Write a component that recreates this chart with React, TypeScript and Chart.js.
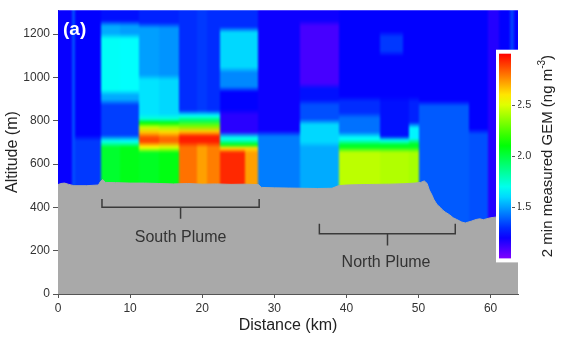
import React, { useEffect, useRef } from 'react';
import { Chart, registerables } from 'chart.js';

Chart.register(...registerables);

// ---- axes ----
const xTicks = [0, 10, 20, 30, 40, 50, 60];
const yTicks = [0, 200, 400, 600, 800, 1000, 1200];
const gemTicks = [1.5, 2.0, 2.5];
const gemMin = 1.0;
const gemMax = 3.0;
const distanceMax = 63.8;
const altitudeMax = 1310;
const curtainBase = 300;

// ---- curtain: column edges (km) and, per column, [top altitude (m), GEM (ng m-3)] bands from the bottom up ----
const columnEdges = [0, 2.0, 2.4, 6.0, 8.6, 11.3, 14.0, 16.8, 19.3, 20.7, 22.5, 26.0, 27.8, 33.5, 39.0, 44.6, 47.8, 48.7, 50.0, 57.0, 59.6, 61.2, 62.7, 63.2, 63.8];
const columnBands: number[][][] = [
  [[1310, 1.21]],
  [[1310, 1.36]],
  [[720, 1.32], [1310, 1.22]],
  [[690, 2.03], [720, 1.7], [885, 1.33], [930, 1.52], [1190, 1.68], [1250, 1.52], [1310, 1.25]],
  [[690, 2.07], [720, 1.68], [885, 1.33], [930, 1.52], [1190, 1.67], [1250, 1.5], [1310, 1.25]],
  [[665, 2.05], [690, 2.55], [735, 2.88], [760, 2.65], [780, 2.45], [800, 2.1], [820, 1.72], [1000, 1.62], [1240, 1.5], [1310, 1.28]],
  [[665, 2.08], [690, 2.5], [735, 2.82], [760, 2.62], [780, 2.4], [800, 2.08], [820, 1.72], [1000, 1.6], [1240, 1.48], [1310, 1.28]],
  [[690, 2.8], [740, 2.95], [762, 2.65], [790, 2.3], [810, 1.95], [835, 1.68], [1310, 1.3]],
  [[690, 2.72], [740, 2.95], [762, 2.65], [790, 2.3], [810, 1.95], [835, 1.68], [1310, 1.32]],
  [[690, 2.78], [740, 2.95], [762, 2.65], [790, 2.3], [810, 1.95], [835, 1.68], [1310, 1.3]],
  [[665, 2.93], [680, 2.62], [700, 2.05], [735, 1.7], [840, 1.15], [945, 1.22], [1035, 1.46], [1220, 1.6], [1310, 1.3]],
  [[665, 2.72], [680, 2.62], [700, 2.05], [735, 1.7], [840, 1.15], [945, 1.22], [1035, 1.46], [1220, 1.6], [1310, 1.3]],
  [[740, 1.44], [1310, 1.2]],
  [[690, 1.52], [795, 1.6], [885, 1.36], [960, 1.25], [1250, 1.1], [1310, 1.2]],
  [[665, 2.44], [700, 2.05], [735, 1.68], [825, 1.42], [900, 1.3], [1310, 1.22]],
  [[665, 2.42], [700, 2.05], [716, 1.7], [900, 1.25], [1110, 1.22], [1200, 1.32], [1310, 1.22]],
  [[665, 2.42], [700, 2.05], [716, 1.7], [900, 1.25], [1310, 1.22]],
  [[665, 2.4], [705, 2.05], [780, 1.65], [900, 1.28], [1310, 1.22]],
  [[880, 1.38], [1310, 1.22]],
  [[750, 1.36], [1310, 1.22]],
  [[1310, 1.16]],
  [[1310, 1.22]],
  [[1310, 1.33]],
  [[1310, 1.22]],
];

// ---- terrain profile ----
const terrainKm = [0, 0.4, 0.9, 1.5, 2.2, 4, 5.6, 5.9, 6.2, 6.6, 8, 10, 12, 14, 16, 18, 20, 22, 24, 26, 27.8, 28.2, 30, 32, 34, 36, 38, 38.9, 40, 42, 44, 46, 48, 49.5, 50.3, 50.8, 51.2, 51.5, 51.9, 52.1, 52.4, 52.6, 53.0, 53.4, 53.8, 54.3, 54.8, 55.3, 56, 56.5, 57.3, 58, 58.5, 59, 60, 61, 63.8];
const terrainAlt = [505, 510, 512, 506, 500, 500, 503, 520, 528, 515, 514, 512, 512, 510, 508, 510, 507, 508, 506, 507, 505, 492, 490, 489, 488, 487, 488, 500, 503, 505, 506, 507, 509, 512, 515, 522, 510, 480, 455, 438, 422, 412, 400, 386, 376, 366, 352, 344, 332, 328, 336, 344, 347, 343, 352, 356, 356];

// ---- plume brackets ----
const southBracketKm = [6.1, 6.1, 17, 17, 17, 27.9, 27.9];
const southBracketAlt = [438, 401, 401, 347, 401, 401, 438];
const northBracketKm = [36.25, 36.25, 45.7, 45.7, 45.7, 55.1, 55.1];
const northBracketAlt = [324, 278, 278, 224, 278, 278, 324];
const plumeLabels = ['South Plume', 'North Plume'];
const plumeLabelKm = [17, 45.5];
const plumeLabelAlt = [260, 146];

const FONT = "'Liberation Sans', Arial, sans-serif";

function gemColor(v: number): string {
  const t = Math.min(1, Math.max(0, (v - gemMin) / (gemMax - gemMin)));
  const hue = 270 * (1 - t);
  return `hsl(${hue.toFixed(1)}, 100%, 50%)`;
}

const curtainPlugin = {
  id: 'curtain',
  beforeDatasetsDraw(chart: any) {
    const { ctx, chartArea, scales, canvas } = chart;
    const x = scales.x;
    const y = scales.y;
    const off = document.createElement('canvas');
    off.width = canvas.width;
    off.height = canvas.height;
    const o = off.getContext('2d') as CanvasRenderingContext2D;
    const ext = 8;
    const gBottom = y.getPixelForValue(curtainBase);
    const gTop = chartArea.top - ext;
    const span = gBottom - gTop;
    const off01 = (p: number) => Math.min(1, Math.max(0, (gBottom - p) / span));
    const last = columnEdges.length - 2;
    for (let i = 0; i < columnEdges.length - 1; i++) {
      let x0 = Math.round(x.getPixelForValue(columnEdges[i]));
      let x1 = Math.round(x.getPixelForValue(columnEdges[i + 1]));
      if (i === 0) x0 -= ext;
      if (i === last) x1 += ext;
      const grad = o.createLinearGradient(0, gBottom, 0, gTop);
      let bottom = curtainBase;
      const bands = columnBands[i];
      bands.forEach(([top, v], j) => {
        const pb = y.getPixelForValue(bottom);
        const pt = j === bands.length - 1 ? gTop : y.getPixelForValue(top);
        const m = Math.min(3, (pb - pt) / 2 - 0.01);
        const c = gemColor(v);
        grad.addColorStop(j === 0 ? 0 : off01(pb - m), c);
        grad.addColorStop(j === bands.length - 1 ? 1 : off01(pt + m), c);
        bottom = top;
      });
      o.fillStyle = grad;
      o.fillRect(x0, gTop, x1 - x0, span);
    }
    ctx.save();
    ctx.beginPath();
    ctx.rect(chartArea.left, chartArea.top, chartArea.right - chartArea.left, chartArea.bottom - chartArea.top);
    ctx.clip();
    ctx.filter = 'blur(1.2px)';
    ctx.drawImage(off, 0, 0);
    ctx.filter = 'none';
    ctx.restore();
  },
};

const overlayPlugin = {
  id: 'overlay',
  afterDatasetsDraw(chart: any) {
    const { ctx, chartArea, scales } = chart;
    const x = scales.x;
    const y = scales.y;
    const g = scales.y2;
    ctx.save();
    // plume labels
    ctx.fillStyle = '#333';
    ctx.font = `16px ${FONT}`;
    ctx.textAlign = 'center';
    ctx.textBaseline = 'middle';
    plumeLabels.forEach((t, i) => {
      ctx.fillText(t, x.getPixelForValue(plumeLabelKm[i]), y.getPixelForValue(plumeLabelAlt[i]));
    });
    // panel tag
    ctx.fillStyle = '#fff';
    ctx.font = `bold 19px ${FONT}`;
    ctx.textAlign = 'left';
    ctx.fillText('(a)', chartArea.left + 5, chartArea.top + 20);

    // colour bar
    const cbTop = g.getPixelForValue(gemMax);
    const cbBottom = g.getPixelForValue(gemMin);
    const cbRight = chartArea.right - 7;
    const cbLeft = chartArea.right - 19;
    ctx.fillStyle = '#fff';
    ctx.fillRect(cbLeft - 3, cbTop - 4, chartArea.right - cbLeft + 3, cbBottom - cbTop + 8);
    const grad = ctx.createLinearGradient(0, cbBottom, 0, cbTop);
    for (let k = 0; k <= 20; k++) {
      const v = gemMin + (k / 20) * (gemMax - gemMin);
      grad.addColorStop(k / 20, gemColor(v));
    }
    ctx.fillStyle = grad;
    ctx.fillRect(cbLeft, cbTop, cbRight - cbLeft, cbBottom - cbTop);
    ctx.strokeStyle = '#555';
    ctx.lineWidth = 1;
    gemTicks.forEach((v) => {
      const py = Math.round(g.getPixelForValue(v)) + 0.5;
      ctx.beginPath();
      ctx.moveTo(cbRight + 1, py);
      ctx.lineTo(cbRight + 4, py);
      ctx.stroke();
    });
    // colour bar title
    ctx.translate(chartArea.right + 30, (cbTop + cbBottom) / 2);
    ctx.rotate(-Math.PI / 2);
    ctx.fillStyle = '#222';
    ctx.textBaseline = 'middle';
    const main = '2 min measured GEM (ng m';
    const sup = '-3';
    const end = ')';
    ctx.font = `15px ${FONT}`;
    const wMain = ctx.measureText(main).width;
    const wEnd = ctx.measureText(end).width;
    ctx.font = `10px ${FONT}`;
    const wSup = ctx.measureText(sup).width;
    const total = wMain + wSup + wEnd;
    let px = -total / 2;
    ctx.textAlign = 'left';
    ctx.font = `15px ${FONT}`;
    ctx.fillText(main, px, 0);
    px += wMain;
    ctx.font = `10px ${FONT}`;
    ctx.fillText(sup, px, -6);
    px += wSup;
    ctx.font = `15px ${FONT}`;
    ctx.fillText(end, px, 0);
    ctx.restore();
  },
};

export default function App() {
  const ref = useRef<HTMLCanvasElement>(null);
  useEffect(() => {
    const canvas = ref.current;
    if (!canvas) return;
    Chart.defaults.font.family = FONT;
    const terrain = terrainKm.map((k, i) => ({ x: k, y: terrainAlt[i] }));
    const south = southBracketKm.map((k, i) => ({ x: k, y: southBracketAlt[i] }));
    const north = northBracketKm.map((k, i) => ({ x: k, y: northBracketAlt[i] }));
    const chart = new Chart(canvas, {
      type: 'line',
      data: {
        datasets: [
          { label: 'South Plume', data: south, borderColor: '#3a3a3a', borderWidth: 1.5, pointRadius: 0, fill: false, order: 1, tension: 0 },
          { label: 'North Plume', data: north, borderColor: '#3a3a3a', borderWidth: 1.5, pointRadius: 0, fill: false, order: 1, tension: 0 },
          { label: 'Terrain', data: terrain, borderColor: '#a9a9a9', backgroundColor: '#a9a9a9', borderWidth: 1, pointRadius: 0, fill: 'origin', order: 3, tension: 0 },
        ],
      },
      options: {
        animation: false,
        responsive: false,
        events: [],
        layout: { padding: { top: 7, left: 0, right: 0, bottom: 0 } },
        plugins: { legend: { display: false }, tooltip: { enabled: false } },
        scales: {
          x: {
            type: 'linear',
            min: 0,
            max: distanceMax,
            z: 1,
            afterBuildTicks: (s: any) => { s.ticks = xTicks.map((v) => ({ value: v })); },
            afterFit: (s: any) => { s.height = 44; },
            grid: { drawOnChartArea: false, drawTicks: true, tickLength: 4, color: '#555' },
            border: { display: true, color: '#555' },
            ticks: { color: '#333', font: { size: 12 }, padding: 3, maxRotation: 0, autoSkip: false, callback: (v: any) => String(v) },
            title: { display: true, text: 'Distance (km)', color: '#222', font: { size: 16 }, padding: { top: 0, bottom: 3 } },
          },
          y: {
            type: 'linear',
            position: 'left',
            min: 0,
            max: altitudeMax,
            z: 1,
            afterBuildTicks: (s: any) => { s.ticks = yTicks.map((v) => ({ value: v })); },
            afterFit: (s: any) => { s.width = 58; },
            grid: { drawOnChartArea: false, drawTicks: true, tickLength: 5, color: '#555' },
            border: { display: true, color: '#555' },
            ticks: { color: '#333', font: { size: 12 }, padding: 3, autoSkip: false, callback: (v: any) => String(v) },
            title: { display: true, text: 'Altitude (m)', color: '#222', font: { size: 16 }, padding: { top: 3, bottom: 0 } },
          },
          y2: {
            type: 'linear',
            position: 'right',
            min: 0.652,
            max: 3.425,
            z: 1,
            afterBuildTicks: (s: any) => { s.ticks = gemTicks.map((v) => ({ value: v })); },
            afterFit: (s: any) => { s.width = 45; },
            grid: { display: false, drawTicks: false },
            border: { display: false },
            ticks: { color: '#333', font: { size: 11 }, padding: -2, autoSkip: false, callback: (v: any) => Number(v).toFixed(1) },
          },
        },
      },
      plugins: [curtainPlugin, overlayPlugin],
    });
    return () => chart.destroy();
  }, []);
  return (
    <div style={{ position: 'fixed', left: 0, top: 0, width: 563, height: 338, background: '#fff' }}>
      <canvas ref={ref} width={563} height={338} style={{ display: 'block', width: 563, height: 338 }} />
    </div>
  );
}
